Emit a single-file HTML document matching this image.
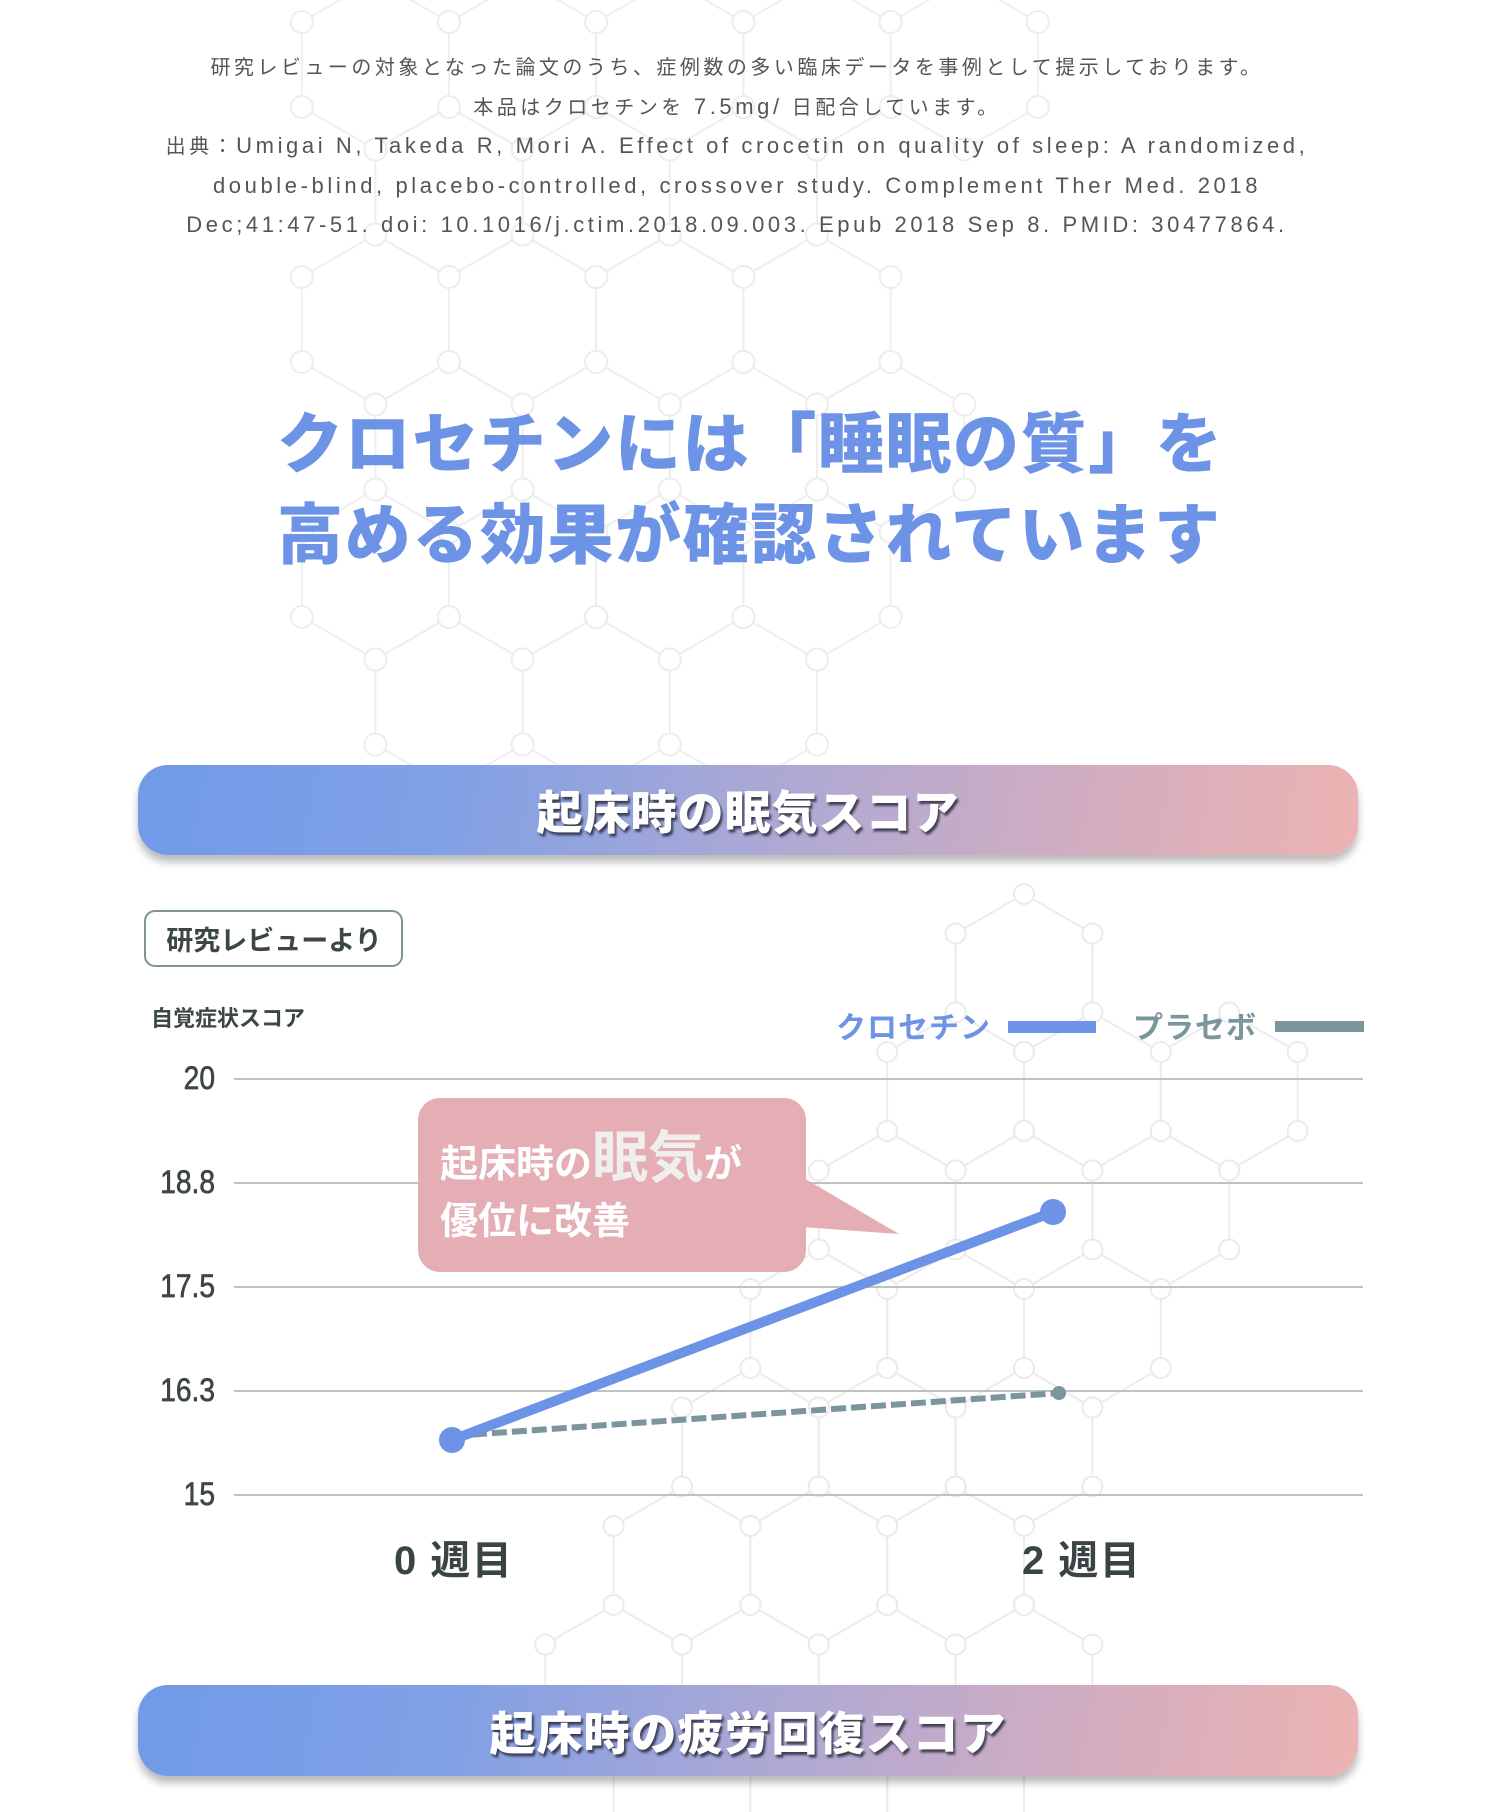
<!DOCTYPE html>
<html lang="ja">
<head>
<meta charset="utf-8">
<style>
  html,body{margin:0;padding:0;background:#fff;}
  body{width:1500px;height:1812px;position:relative;overflow:hidden;
       font-family:"Liberation Sans","Noto Sans CJK JP",sans-serif;}
  .abs{position:absolute;}
  .note{left:0;top:49px;width:1474px;text-align:center;color:#555;font-size:20px;
        letter-spacing:3.5px;white-space:nowrap;}
  .note div{height:39.5px;line-height:39.5px;overflow:visible;}
  .note .l{font-size:22px;letter-spacing:3.6px;line-height:20px;}
  .title{left:277px;top:399px;width:1150px;color:#6d93e6;font-size:66px;font-weight:900;
         line-height:91px;letter-spacing:1.6px;white-space:nowrap;
         font-family:"Liberation Sans","Noto Sans CJK JP",sans-serif;}
  .banner{left:138px;width:1220px;height:90px;border-radius:30px;
          background:linear-gradient(100deg,#709be9 0%,#80a0e6 25%,#b1a9d2 55%,#d3adc0 78%,#ecb3b1 100%);
          box-shadow:0 7px 8px rgba(60,60,60,0.35);
          display:flex;align-items:center;justify-content:center;
          color:#fff;font-size:46px;font-weight:900;letter-spacing:1px;
          text-shadow:2px 3px 2px rgba(45,45,65,0.85);}
</style>
</head>
<body>

<!-- background hex pattern -->
<svg class="abs" style="left:0;top:0" width="1500" height="1812" viewBox="0 0 1500 1812">
  <defs>
    <g id="hA">
      <polygon points="0,-85 73.6,-42.5 73.6,42.5 0,85 -73.6,42.5 -73.6,-42.5" fill="none" stroke="#e4e4e4" stroke-width="2"/>
      <g fill="#fff" stroke="#e2e2e2" stroke-width="2">
        <circle cx="0" cy="-85" r="11"/><circle cx="73.6" cy="-42.5" r="11"/><circle cx="73.6" cy="42.5" r="11"/>
        <circle cx="0" cy="85" r="11"/><circle cx="-73.6" cy="42.5" r="11"/><circle cx="-73.6" cy="-42.5" r="11"/>
      </g>
    </g>
    <g id="hB">
      <polygon points="0,-79 68.4,-39.5 68.4,39.5 0,79 -68.4,39.5 -68.4,-39.5" fill="none" stroke="#e6e6e6" stroke-width="2"/>
      <g fill="#fff" stroke="#e4e4e4" stroke-width="2">
        <circle cx="0" cy="-79" r="10"/><circle cx="68.4" cy="-39.5" r="10"/><circle cx="68.4" cy="39.5" r="10"/>
        <circle cx="0" cy="79" r="10"/><circle cx="-68.4" cy="39.5" r="10"/><circle cx="-68.4" cy="-39.5" r="10"/>
      </g>
    </g>
  </defs>
  <g opacity="0.6">
    <use href="#hA" x="375.4" y="64.5"/><use href="#hA" x="522.6" y="64.5"/><use href="#hA" x="669.8" y="64.5"/><use href="#hA" x="817" y="64.5"/><use href="#hA" x="964.2" y="64.5"/>
    <use href="#hA" x="449" y="192"/><use href="#hA" x="596.2" y="192"/><use href="#hA" x="743.4" y="192"/>
    <use href="#hA" x="375.4" y="319.5"/><use href="#hA" x="522.6" y="319.5"/><use href="#hA" x="669.8" y="319.5"/><use href="#hA" x="817" y="319.5"/>
    <use href="#hA" x="449" y="447"/><use href="#hA" x="596.2" y="447"/><use href="#hA" x="743.4" y="447"/><use href="#hA" x="890.6" y="447"/>
    <use href="#hA" x="375.4" y="574.5"/><use href="#hA" x="522.6" y="574.5"/><use href="#hA" x="669.8" y="574.5"/><use href="#hA" x="817" y="574.5"/>
    <use href="#hA" x="449" y="702"/><use href="#hA" x="596.2" y="702"/><use href="#hA" x="743.4" y="702"/>
  </g>
  <g opacity="0.75">
    <use href="#hB" x="1024" y="973"/>
    <use href="#hB" x="955.6" y="1091.5"/><use href="#hB" x="1092.4" y="1091.5"/><use href="#hB" x="1229.2" y="1091.5"/>
    <use href="#hB" x="887.2" y="1210"/><use href="#hB" x="1024" y="1210"/><use href="#hB" x="1160.8" y="1210"/>
    <use href="#hB" x="818.8" y="1328.5"/><use href="#hB" x="955.6" y="1328.5"/><use href="#hB" x="1092.4" y="1328.5"/>
    <use href="#hB" x="750.4" y="1447"/><use href="#hB" x="887.2" y="1447"/><use href="#hB" x="1024" y="1447"/>
    <use href="#hB" x="682" y="1565.5"/><use href="#hB" x="818.8" y="1565.5"/><use href="#hB" x="955.6" y="1565.5"/>
    <use href="#hB" x="613.6" y="1684"/><use href="#hB" x="750.4" y="1684"/><use href="#hB" x="887.2" y="1684"/><use href="#hB" x="1024" y="1684"/>
    <use href="#hB" x="682" y="1802.5"/><use href="#hB" x="818.8" y="1802.5"/><use href="#hB" x="955.6" y="1802.5"/>
  </g>
</svg>

<div class="abs note">
  <div>研究レビューの対象となった論文のうち、症例数の多い臨床データを事例として提示しております。</div>
  <div>本品はクロセチンを <span class="l">7.5mg/</span> 日配合しています。</div>
  <div>出典：<span class="l">Umigai N, Takeda R, Mori A. Effect of crocetin on quality of sleep: A randomized,</span></div>
  <div><span class="l">double-blind, placebo-controlled, crossover study. Complement Ther Med. 2018</span></div>
  <div><span class="l">Dec;41:47-51. doi: 10.1016/j.ctim.2018.09.003. Epub 2018 Sep 8. PMID: 30477864.</span></div>
</div>

<div class="abs title">クロセチンには「睡眠の質」を<br>高める効果が確認されています</div>

<div class="abs banner" style="top:765px;">起床時の眠気スコア</div>
<div class="abs banner" style="top:1685px;height:91px;">起床時の疲労回復スコア</div>

<!-- chart -->
<svg class="abs" style="left:0;top:0" width="1500" height="1812" viewBox="0 0 1500 1812"
     font-family="Liberation Sans, Noto Sans CJK JP, sans-serif">
  <!-- badge -->
  <rect x="145" y="911" width="257" height="55" rx="10" ry="10" fill="#fff" stroke="#7f9297" stroke-width="2"/>
  <text x="274" y="950" font-size="27" font-weight="bold" fill="#3c4646" text-anchor="middle">研究レビューより</text>

  <text x="151" y="1026" font-size="22" font-weight="bold" fill="#3d4747">自覚症状スコア</text>

  <!-- legend -->
  <text x="836" y="1038" font-size="30" font-weight="bold" fill="#6d93e6" letter-spacing="1">クロセチン</text>
  <rect x="1008" y="1021" width="88" height="12" fill="#6d93e6"/>
  <text x="1133" y="1038" font-size="30" font-weight="bold" fill="#7a959b" letter-spacing="1">プラセボ</text>
  <rect x="1275" y="1021" width="89" height="11" fill="#7a959b"/>

  <!-- gridlines -->
  <g stroke="#b7c6c4" stroke-width="2">
    <line x1="234" y1="1079" x2="1363" y2="1079"/>
    <line x1="234" y1="1183" x2="1363" y2="1183"/>
    <line x1="234" y1="1287" x2="1363" y2="1287"/>
    <line x1="234" y1="1391" x2="1363" y2="1391"/>
    <line x1="234" y1="1495" x2="1363" y2="1495"/>
  </g>
  <!-- y labels -->
  <g font-size="32" fill="#3d4646" stroke="#3d4646" stroke-width="0.7" text-anchor="end">
    <text x="0" y="0" transform="translate(215 1089) scale(0.88 1)">20</text>
    <text x="0" y="0" transform="translate(215 1193) scale(0.88 1)">18.8</text>
    <text x="0" y="0" transform="translate(215 1297) scale(0.88 1)">17.5</text>
    <text x="0" y="0" transform="translate(215 1401) scale(0.88 1)">16.3</text>
    <text x="0" y="0" transform="translate(215 1505) scale(0.88 1)">15</text>
  </g>

  <!-- callout -->
  <rect x="418" y="1098" width="388" height="174" rx="22" ry="22" fill="#e4aeb4"/>
  <polygon points="802,1177 899,1234 802,1227" fill="#e4aeb4"/>
  <text x="440" y="1177" font-weight="bold" fill="#fff" font-size="38">起床時の<tspan font-size="56" fill="#f1eeee">眠気</tspan><tspan font-size="38" fill="#fff">が</tspan></text>
  <text x="440" y="1234" font-weight="bold" fill="#fff" font-size="38">優位に改善</text>

  <!-- series -->
  <line x1="452" y1="1436" x2="1059" y2="1393" stroke="#7a959b" stroke-width="6" stroke-dasharray="15 5"/>
  <circle cx="1059" cy="1393" r="7" fill="#7a959b"/>
  <line x1="452" y1="1440" x2="1053" y2="1212" stroke="#6d93e6" stroke-width="10"/>
  <circle cx="452" cy="1440" r="13" fill="#6d93e6"/>
  <circle cx="1053" cy="1212" r="13" fill="#6d93e6"/>

  <!-- x labels -->
  <text x="394" y="1574" font-size="40" font-weight="bold" fill="#3a4444" letter-spacing="1.5">0 週目</text>
  <text x="1022" y="1574" font-size="40" font-weight="bold" fill="#3a4444" letter-spacing="1.5">2 週目</text>
</svg>

</body>
</html>
